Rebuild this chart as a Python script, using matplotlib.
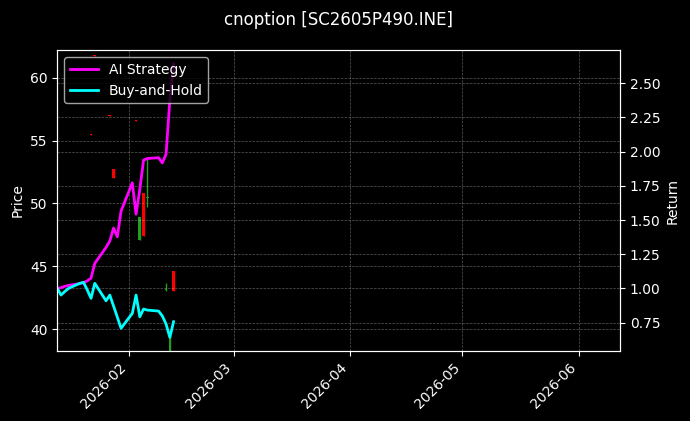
import matplotlib
matplotlib.use('Agg')
import matplotlib.pyplot as plt
import matplotlib.dates as mdates
import numpy as np
import pandas as pd

# trading days shown
dates = ['2026-01-13', '2026-01-14', '2026-01-15', '2026-01-16', '2026-01-19',
         '2026-01-20', '2026-01-21', '2026-01-22', '2026-01-23', '2026-01-26',
         '2026-01-27', '2026-01-28', '2026-01-29', '2026-01-30', '2026-02-02',
         '2026-02-03', '2026-02-04', '2026-02-05', '2026-02-06', '2026-02-09',
         '2026-02-10', '2026-02-11', '2026-02-12', '2026-02-13']

# OHLC of the option (most days barely traded)
open_ = [60.0, 57.1, 58.6, 60.0, 62.2, 62.6, 59.3, 55.45, 61.75, 54.45, 56.95, 52.0,
         47.4, 42.45, 49.0, 56.55, 48.9, 47.4, 50.5, 49.85, 47.9, 43.2, 39.5, 43.0]
high = [60.0, 57.1, 58.6, 60.0, 62.2, 62.6, 59.3, 55.5, 61.8, 54.5, 57.0, 52.75,
        47.4, 42.5, 49.0, 56.6, 48.9, 50.8, 53.5, 49.9, 47.9, 43.7, 39.5, 44.6]
low = [60.0, 57.1, 58.6, 60.0, 62.2, 62.6, 59.3, 55.45, 61.75, 54.45, 56.95, 52.0,
       47.4, 42.45, 49.0, 56.55, 47.1, 47.4, 49.7, 49.85, 47.9, 43.0, 37.5, 43.0]
close = [60.0, 57.1, 58.6, 60.0, 62.2, 62.6, 59.3, 55.5, 61.8, 54.5, 57.0, 52.75,
         47.4, 42.5, 49.0, 56.6, 47.1, 50.8, 50.4, 49.9, 47.9, 43.1, 38.0, 44.6]

# cumulative returns
ai_ret = [1.000, 1.005, 1.015, 1.022, 1.035, 1.042, 1.055, 1.075, 1.183, 1.300,
          1.346, 1.441, 1.377, 1.565, 1.772, 1.543, 1.724, 1.938, 1.950, 1.956,
          1.918, 1.982, 2.376, 2.643]
bh_ret = [1.000, 0.951, 0.977, 1.000, 1.037, 1.044, 0.988, 0.927, 1.037, 0.909,
          0.951, 0.871, 0.790, 0.708, 0.817, 0.951, 0.792, 0.849, 0.841, 0.834,
          0.798, 0.739, 0.642, 0.756]

plt.style.use('dark_background')

x = pd.to_datetime(dates)
o = np.array(open_)
c = np.array(close)
colors = ['red' if cc >= oo else '#1f9e1f' for oo, cc in zip(o, c)]

fig, ax = plt.subplots(figsize=(6.9, 4.21), dpi=100)
fig.subplots_adjust(left=0.083, right=0.8986, bottom=0.1663, top=0.881)

# candles (red up / green down)
ax.vlines(x, low, high, colors=colors, linewidth=1)
ax.bar(x, np.abs(c - o), bottom=np.minimum(o, c), width=0.7, color=colors, linewidth=0)
ax.set_ylim(38.25, 62.2)
ax.set_ylabel('Price')
ax.grid(True, linestyle='--', linewidth=0.5, alpha=0.35)

ax2 = ax.twinx()
ax2.plot(x, ai_ret, color='#ff00ff', linewidth=2, label='AI Strategy')
ax2.plot(x, bh_ret, color='#00ffff', linewidth=2, label='Buy-and-Hold')
ax2.set_ylim(0.542, 2.743)
ax2.set_ylabel('Return')
ax2.grid(True, linestyle='--', linewidth=0.5, alpha=0.35)
ax2.legend(loc='upper left')

ax.set_xlim(pd.Timestamp('2026-01-13'), pd.Timestamp('2026-06-12'))
ax.xaxis.set_major_locator(mdates.MonthLocator())
ax.xaxis.set_major_formatter(mdates.DateFormatter('%Y-%m'))
plt.setp(ax.get_xticklabels(), rotation=45, ha='right')

ax.set_title('cnoption [SC2605P490.INE]', pad=18)

fig.savefig('out.png', dpi=100)
